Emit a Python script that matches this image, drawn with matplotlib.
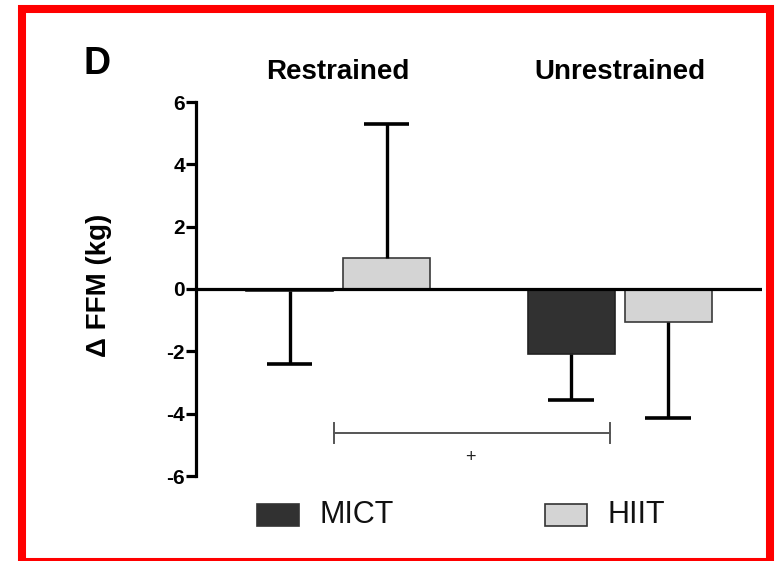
import matplotlib
matplotlib.use("Agg")
import matplotlib.pyplot as plt
from matplotlib.patches import Rectangle

plt.rcParams['font.family'] = ['Liberation Sans', 'DejaVu Sans']

groups = ["Restrained", "Unrestrained"]
series = ["MICT", "HIIT"]
mict_mean = [-0.08, -2.08]
mict_err = [2.32, 1.48]
hiit_mean = [1.0, -1.06]
hiit_err = [4.28, 3.07]
yticks = [-6, -4, -2, 0, 2, 4, 6]

W, H = 782, 561
fig = plt.figure(figsize=(W / 100, H / 100), dpi=100)

# red frame
fig.patches.append(Rectangle((22 / W, -1 / H), (770 - 22) / W, (H - 9 + 1) / H,
                             transform=fig.transFigure, fill=False,
                             edgecolor='#ff0000', linewidth=5.8, zorder=0))

ax = fig.add_axes([196 / W, (H - 476) / H, 566 / W, 374 / H])
ax.set_xlim(0, 5.835)
ax.set_ylim(-6, 6)

centers = [1.464, 4.366]
off = 0.5
width = 0.897
capw = 0.474
dark = '#313131'
light = '#d4d4d4'

for i, g in enumerate(groups):
    xm = centers[i] - off
    xh = centers[i] + off
    ax.bar(xm, mict_mean[i], width=width, color=dark, edgecolor='#222222',
           linewidth=1.2, zorder=2)
    ax.bar(xh, hiit_mean[i], width=width, color=light, edgecolor='#3a3a3a',
           linewidth=1.2, zorder=2)
    for x, m, e in [(xm, mict_mean[i], mict_err[i]), (xh, hiit_mean[i], hiit_err[i])]:
        end = m + e if m >= 0 else m - e
        ax.plot([x, x], [m, end], color='black', linewidth=2.4, zorder=3,
                solid_capstyle='butt')
        ax.plot([x - capw / 2, x + capw / 2], [end, end], color='black',
                linewidth=2.6, zorder=3, solid_capstyle='butt')
    ax.text(centers[i], 6.96, g, ha='center', va='center', fontsize=20,
            fontweight='bold', transform=ax.transData, clip_on=False)

ax.axhline(0, color='black', linewidth=2.3, zorder=4)

# significance bracket
bx0, bx1, by = 1.42, 4.27, -4.62
ax.plot([bx0, bx1], [by, by], color='#555555', linewidth=1.4, zorder=3)
ax.plot([bx0, bx0], [by - 0.32, by + 0.32], color='#555555', linewidth=1.4)
ax.plot([bx1, bx1], [by - 0.32, by + 0.32], color='#555555', linewidth=1.4)
ax.text(2.825, -5.4, '+', ha='center', va='center', fontsize=13, color='#222222')

for s in ['top', 'right', 'bottom']:
    ax.spines[s].set_visible(False)
ax.spines['left'].set_linewidth(2.3)
ax.set_xticks([])
ax.set_yticks(yticks)
ax.set_yticklabels([str(t) for t in yticks], fontsize=15, fontweight='bold')
ax.tick_params(axis='y', length=7, width=2.3, pad=1)
ax.set_ylabel('Δ FFM (kg)', fontsize=20, fontweight='bold', labelpad=0)
ax.yaxis.set_label_coords((112 - 196) / 566, (476 - 285) / 374)

fig.text(97 / W, 1 - 64 / H, 'D', fontsize=27, fontweight='bold',
         ha='center', va='center')

# legend
leg_y = 515
for (px, tx, c, lab) in [(257, 320, dark, 'MICT'), (545, 608, light, 'HIIT')]:
    fig.patches.append(Rectangle((px / W, 1 - 526 / H), 42 / W, 22 / H,
                                 transform=fig.transFigure, facecolor=c,
                                 edgecolor='#333333', linewidth=1.2))
    fig.text(tx / W, 1 - leg_y / H, lab, fontsize=22, ha='left', va='center',
             color='#111111')

fig.savefig('out.png', dpi=100, facecolor='white')
